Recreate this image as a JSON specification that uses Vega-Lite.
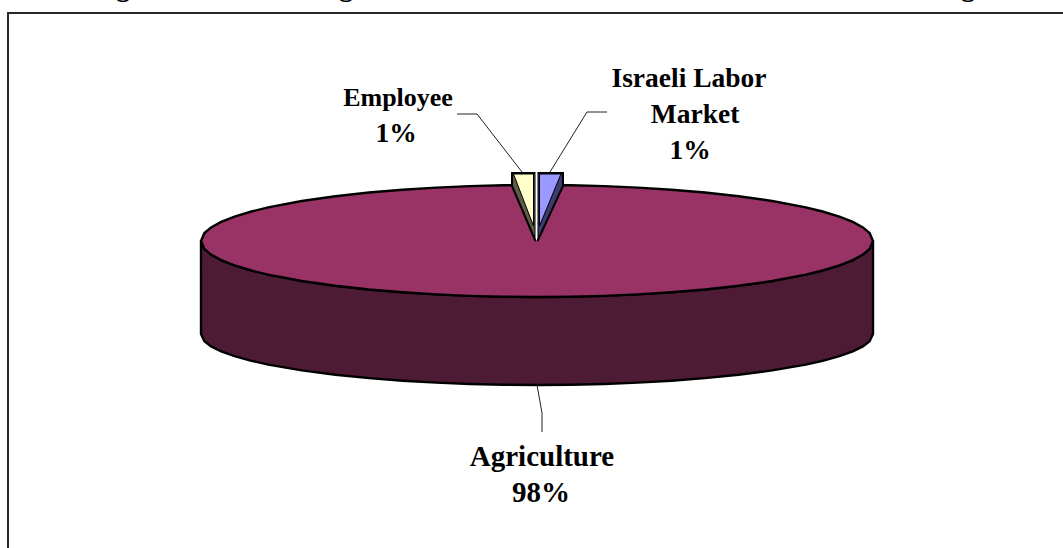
{"$schema":"https://vega.github.io/schema/vega-lite/v6.json","width":1063,"height":548,"padding":0,"autosize":{"type":"none"},"background":"white","config":{"view":{"stroke":null}},
"datasets":{
"disc":[
{"x":201,"top":241,"bot":241,"base":334},{"x":204.4,"top":233.1,"bot":248.9,"base":341.2},{"x":211.1,"top":227.4,"bot":254.6,"base":346.4},{"x":221.2,"top":221.9,"bot":260.1,"base":351.4},{"x":234.6,"top":216.6,"bot":265.4,"base":356.2},{"x":251.4,"top":211.5,"bot":270.5,"base":360.8},{"x":268.2,"top":207.4,"bot":274.6,"base":364.6},{"x":301.8,"top":201,"bot":281,"base":370.4},{"x":335.4,"top":196.2,"bot":285.8,"base":374.8},{"x":369,"top":192.5,"bot":289.5,"base":378.1},{"x":402.6,"top":189.7,"bot":292.3,"base":380.7},{"x":436.2,"top":187.6,"bot":294.4,"base":382.6},{"x":469.8,"top":186.1,"bot":295.9,"base":384},{"x":503.4,"top":185.3,"bot":296.7,"base":384.7},{"x":537,"top":185,"bot":297,"base":385},{"x":570.6,"top":185.3,"bot":296.7,"base":384.7},{"x":604.2,"top":186.1,"bot":295.9,"base":384},{"x":637.8,"top":187.6,"bot":294.4,"base":382.6},{"x":671.4,"top":189.7,"bot":292.3,"base":380.7},{"x":705,"top":192.5,"bot":289.5,"base":378.1},{"x":738.6,"top":196.2,"bot":285.8,"base":374.8},{"x":772.2,"top":201,"bot":281,"base":370.4},{"x":805.8,"top":207.4,"bot":274.6,"base":364.6},{"x":822.6,"top":211.5,"bot":270.5,"base":360.8},{"x":839.4,"top":216.6,"bot":265.4,"base":356.2},{"x":852.8,"top":221.9,"bot":260.1,"base":351.4},{"x":862.9,"top":227.4,"bot":254.6,"base":346.4},{"x":869.6,"top":233.1,"bot":248.9,"base":341.2},{"x":873,"top":241,"bot":241,"base":334}
],
"yellowSide":[{"x":512,"y":173,"y2":186},{"x":535.5,"y":173,"y2":241}],
"blueSide":[{"x":537.5,"y":173,"y2":241},{"x":563,"y":173,"y2":186}],
"yellowTop":[{"x":513.5,"y":174,"y2":174},{"x":533.5,"y":174,"y2":226}],
"blueTop":[{"x":539.5,"y":174,"y2":226},{"x":561,"y":174,"y2":174}],
"gap":[{"x":535.5,"y":171,"y2":238},{"x":536.5,"y":171,"y2":241},{"x":537.5,"y":171,"y2":238}],
"leaders":[
{"part":"employee","i":1,"x":457,"y":114},{"part":"employee","i":2,"x":477,"y":114},{"part":"employee","i":3,"x":522,"y":172},
{"part":"israeli","i":1,"x":607,"y":112},{"part":"israeli","i":2,"x":587,"y":112},{"part":"israeli","i":3,"x":550,"y":172},
{"part":"agriculture","i":1,"x":537,"y":385},{"part":"agriculture","i":2,"x":542,"y":413},{"part":"agriculture","i":3,"x":542,"y":432}
],
"frame":[{"i":1,"x":8,"y":548},{"i":2,"x":8,"y":13},{"i":3,"x":1063,"y":13}],
"labelsA":[{"x":542,"y":466,"text":"Agriculture"},{"x":541,"y":502,"text":"98%"}],
"labelsE":[{"x":398,"y":106,"text":"Employee"}],
"labelsI":[{"x":396,"y":142,"text":"1%"},{"x":689,"y":87,"text":"Israeli Labor"},{"x":695,"y":123,"text":"Market"},{"x":690,"y":159,"text":"1%"},{"x":123,"y":-4,"text":"g"},{"x":346,"y":-4,"text":"g"},{"x":968,"y":-4,"text":"g"}]
},
"encoding":{"x":{"field":"x","type":"quantitative","scale":{"domain":[0,1063],"nice":false,"zero":false},"axis":null}},
"layer":[
{"data":{"name":"frame"},"mark":{"type":"line","stroke":"#2a2a2a","strokeWidth":2},"encoding":{"y":{"field":"y","type":"quantitative","scale":{"domain":[548,0],"nice":false,"zero":false},"axis":null},"order":{"field":"i"}}},
{"data":{"name":"disc"},"mark":{"type":"area","orient":"vertical","fill":"#4D1B33","stroke":"black","strokeWidth":2.4},"encoding":{"y":{"field":"bot","type":"quantitative","axis":null},"y2":{"field":"base"}}},
{"data":{"name":"disc"},"mark":{"type":"area","orient":"vertical","fill":"#993366","stroke":"black","strokeWidth":2.4},"encoding":{"y":{"field":"top","type":"quantitative","axis":null},"y2":{"field":"bot"}}},
{"data":{"name":"yellowSide"},"mark":{"type":"area","orient":"vertical","fill":"#5C5C48","stroke":"black","strokeWidth":2},"encoding":{"y":{"field":"y","type":"quantitative","axis":null},"y2":{"field":"y2"}}},
{"data":{"name":"blueSide"},"mark":{"type":"area","orient":"vertical","fill":"#3C3C70","stroke":"black","strokeWidth":2},"encoding":{"y":{"field":"y","type":"quantitative","axis":null},"y2":{"field":"y2"}}},
{"data":{"name":"yellowTop"},"mark":{"type":"area","orient":"vertical","fill":"#FFFFCC","stroke":"black","strokeWidth":1},"encoding":{"y":{"field":"y","type":"quantitative","axis":null},"y2":{"field":"y2"}}},
{"data":{"name":"blueTop"},"mark":{"type":"area","orient":"vertical","fill":"#9999FF","stroke":"black","strokeWidth":1},"encoding":{"y":{"field":"y","type":"quantitative","axis":null},"y2":{"field":"y2"}}},
{"data":{"name":"gap"},"mark":{"type":"area","orient":"vertical","fill":"white"},"encoding":{"y":{"field":"y","type":"quantitative","axis":null},"y2":{"field":"y2"}}},
{"data":{"name":"leaders"},"mark":{"type":"line","stroke":"#222222","strokeWidth":1},"encoding":{"y":{"field":"y","type":"quantitative","axis":null},"detail":{"field":"part"},"order":{"field":"i"}}},
{"data":{"name":"labelsA"},"mark":{"type":"text","font":"Liberation Serif","fontWeight":"bold","fontSize":29,"align":"center","baseline":"alphabetic","fill":"black"},"encoding":{"y":{"field":"y","type":"quantitative","axis":null},"text":{"field":"text"}}},
{"data":{"name":"labelsE"},"mark":{"type":"text","font":"Liberation Serif","fontWeight":"bold","fontSize":26,"align":"center","baseline":"alphabetic","fill":"black"},"encoding":{"y":{"field":"y","type":"quantitative","axis":null},"text":{"field":"text"}}},
{"data":{"name":"labelsI"},"mark":{"type":"text","font":"Liberation Serif","fontWeight":"bold","fontSize":27.5,"align":"center","baseline":"alphabetic","fill":"black"},"encoding":{"y":{"field":"y","type":"quantitative","axis":null},"text":{"field":"text"}}}
]}
